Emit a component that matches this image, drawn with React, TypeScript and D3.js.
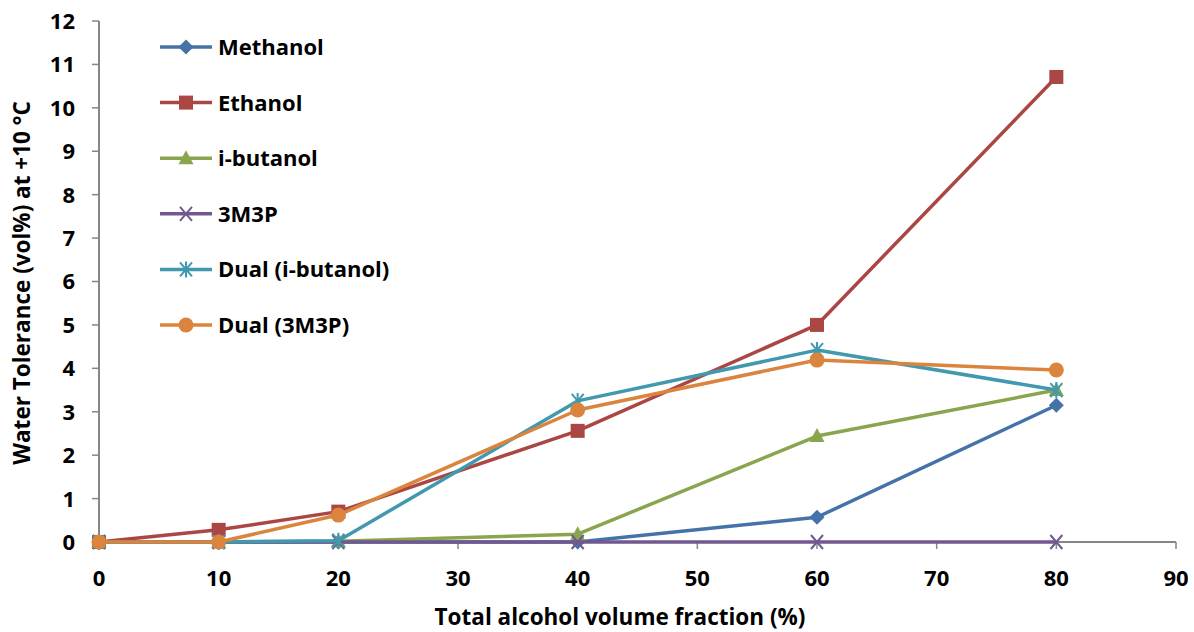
import React from "react";
import * as d3 from "d3";

// Water tolerance at +10 °C versus total alcohol volume fraction
const fractions = [0, 10, 20, 40, 60, 80];
const methanol = [0, 0, 0, 0, 0.57, 3.15];
const ethanol = [0, 0.28, 0.7, 2.56, 5.0, 10.71];
const iButanol = [0, 0, 0.02, 0.18, 2.44, 3.5];
const m3m3p = [0, 0, 0, 0, 0, 0];
const dualIButanol = [0, 0, 0.03, 3.25, 4.42, 3.5];
const dual3M3P = [0, 0, 0.62, 3.04, 4.19, 3.96];

const xTicks = [0, 10, 20, 30, 40, 50, 60, 70, 80, 90];
const yTicks = [0, 1, 2, 3, 4, 5, 6, 7, 8, 9, 10, 11, 12];

type Marker = "diamond" | "square" | "triangle" | "x" | "star" | "circle";

const series: { name: string; values: number[]; color: string; marker: Marker }[] = [
  { name: "Methanol", values: methanol, color: "#4572A7", marker: "diamond" },
  { name: "Ethanol", values: ethanol, color: "#AA4643", marker: "square" },
  { name: "i-butanol", values: iButanol, color: "#89A54E", marker: "triangle" },
  { name: "3M3P", values: m3m3p, color: "#71588F", marker: "x" },
  { name: "Dual (i-butanol)", values: dualIButanol, color: "#4198AF", marker: "star" },
  { name: "Dual (3M3P)", values: dual3M3P, color: "#DB843D", marker: "circle" },
];

const W = 1194;
const H = 632;
const left = 99;
const right = 1176;
const top = 21;
const bottom = 542;
const FONT = "'Open Sans', 'Liberation Sans', sans-serif";

const x = d3.scaleLinear().domain([0, 90]).range([left, right]);
const y = d3.scaleLinear().domain([0, 12]).range([bottom, top]);

function MarkerShape({ type, cx, cy, color }: { type: Marker; cx: number; cy: number; color: string }) {
  switch (type) {
    case "diamond":
      return <path d={`M${cx},${cy - 7.5}L${cx + 7.5},${cy}L${cx},${cy + 7.5}L${cx - 7.5},${cy}Z`} fill={color} />;
    case "square":
      return <rect x={cx - 7} y={cy - 7} width={14} height={14} fill={color} />;
    case "triangle":
      return <path d={`M${cx},${cy - 8}L${cx + 7.5},${cy + 6}L${cx - 7.5},${cy + 6}Z`} fill={color} />;
    case "x":
      return (
        <path
          d={`M${cx - 6},${cy - 7}L${cx + 6},${cy + 7}M${cx - 6},${cy + 7}L${cx + 6},${cy - 7}`}
          stroke={color}
          strokeWidth={2}
        />
      );
    case "star":
      return (
        <path
          d={`M${cx - 6},${cy - 7}L${cx + 6},${cy + 7}M${cx - 6},${cy + 7}L${cx + 6},${cy - 7}M${cx},${cy - 8}L${cx},${cy + 8}`}
          stroke={color}
          strokeWidth={2}
        />
      );
    case "circle":
      return <circle cx={cx} cy={cy} r={7.5} fill={color} />;
  }
}

export default function App() {
  const line = d3
    .line<[number, number]>()
    .x((d) => x(d[0]))
    .y((d) => y(d[1]));

  return (
    <svg width={W} height={H} style={{ display: "block", position: "absolute", left: 0, top: 0 }}>
      <rect width={W} height={H} fill="#ffffff" />

      {/* axes */}
      <line x1={left} y1={top} x2={left} y2={bottom} stroke="#868686" strokeWidth={2} />
      <line x1={left} y1={bottom} x2={right} y2={bottom} stroke="#868686" strokeWidth={2} />
      {yTicks.map((t) => (
        <g key={`y${t}`}>
          <line x1={left - 7} x2={left} y1={y(t)} y2={y(t)} stroke="#868686" strokeWidth={1.5} />
          <text
            x={75}
            y={y(t)}
            dy="0.36em"
            textAnchor="end"
            fontFamily={FONT}
            fontWeight={700}
            fontSize={22}
            fill="#000"
          >
            {t}
          </text>
        </g>
      ))}
      {xTicks.map((t) => (
        <g key={`x${t}`}>
          <line x1={x(t)} x2={x(t)} y1={bottom} y2={bottom + 7} stroke="#868686" strokeWidth={1.5} />
          <text
            x={x(t)}
            y={578}
            dy="0.36em"
            textAnchor="middle"
            fontFamily={FONT}
            fontWeight={700}
            fontSize={22}
            fill="#000"
          >
            {t}
          </text>
        </g>
      ))}

      {/* axis titles */}
      <text
        x={620}
        y={617}
        dy="0.36em"
        textAnchor="middle"
        fontFamily={FONT}
        fontWeight={700}
        fontSize={22.5}
        fill="#000"
      >
        Total alcohol volume fraction (%)
      </text>
      <text
        transform={`translate(22,${283}) rotate(-90)`}
        dy="0.36em"
        textAnchor="middle"
        fontFamily={FONT}
        fontWeight={700}
        fontSize={22.5}
        fill="#000"
      >
        Water Tolerance (vol%) at +10 °C
      </text>

      {/* series */}
      {series.map((s) => {
        const pts = fractions.map((f, i) => [f, s.values[i]] as [number, number]);
        return (
          <g key={s.name}>
            <path d={line(pts) ?? ""} fill="none" stroke={s.color} strokeWidth={3.5} strokeLinejoin="round" />
            {pts.map((p, i) => (
              <MarkerShape key={i} type={s.marker} cx={x(p[0])} cy={y(p[1])} color={s.color} />
            ))}
          </g>
        );
      })}

      {/* legend */}
      {series.map((s, i) => {
        const ly = 47 + i * 55.6;
        return (
          <g key={`lg${s.name}`}>
            <line x1={160} x2={212} y1={ly} y2={ly} stroke={s.color} strokeWidth={3.5} />
            <MarkerShape type={s.marker} cx={186} cy={ly} color={s.color} />
            <text x={218} y={ly} dy="0.36em" fontFamily={FONT} fontWeight={700} fontSize={22} fill="#000">
              {s.name}
            </text>
          </g>
        );
      })}
    </svg>
  );
}
